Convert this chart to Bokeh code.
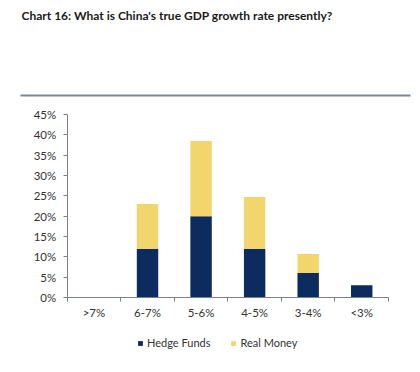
from bokeh.plotting import figure
from bokeh.models import (Range1d, FixedTicker, PrintfTickFormatter, Legend, LegendItem,
                          Label, PolyAnnotation, ColumnDataSource)
from bokeh.embed import file_html
from bokeh.resources import INLINE

categories = [">7%", "6-7%", "5-6%", "4-5%", "3-4%", "<3%"]
hedge_funds = [0, 12, 20, 12, 6, 3]
real_money = [0, 11, 18.5, 12.7, 4.7, 0]
y_ticks = [0, 5, 10, 15, 20, 25, 30, 35, 40, 45]
title_text = "Chart 16: What is China's true GDP growth rate presently?"

NAVY = "#0c2b5e"
YELLOW = "#f3d56e"
AXIS = "#7a7f8a"
FONT = "Lato"

n = len(categories)
xs = [i + 0.5 for i in range(n)]
src = ColumnDataSource(dict(x=xs, hf=hedge_funds, rm=real_money))

# canvas size and where the plotting area sits on it (pixels)
W, H = 412, 364
AX_L, AX_R = 66.7, 388.0     # x of first / last category boundary
AX_B, AX_T = 297.0, 114.0    # y of 0% / 45%
YMAX = y_ticks[-1]
sx = (AX_R - AX_L) / n
sy = (AX_B - AX_T) / YMAX
x_range = Range1d(-AX_L / sx, n + (W - AX_R) / sx)
y_range = Range1d(-(H - AX_B) / sy, YMAX + AX_T / sy)

p = figure(width=W, height=H, output_backend="svg", toolbar_location=None,
           x_range=x_range, y_range=y_range,
           min_border=0)
p.outline_line_color = None
p.grid.visible = False

r = p.vbar_stack(["hf", "rm"], x="x", width=0.4, source=src,
                 color=[NAVY, YELLOW], line_color=None)

xa = p.xaxis[0]
xa.fixed_location = 0
xa.bounds = (0, n)
xa.ticker = FixedTicker(ticks=xs, minor_ticks=list(range(n + 1)))
xa.major_label_overrides = {x: c for x, c in zip(xs, categories)}
xa.major_tick_line_color = None
xa.major_tick_in = 0
xa.major_tick_out = 0
xa.minor_tick_in = 0
xa.minor_tick_out = 4
xa.minor_tick_line_color = AXIS
xa.axis_line_color = AXIS
xa.major_label_standoff = 4

ya = p.yaxis[0]
ya.fixed_location = 0
ya.bounds = (0, YMAX)
ya.ticker = FixedTicker(ticks=y_ticks)
ya.formatter = PrintfTickFormatter(format="%d%%")
ya.major_tick_in = 0
ya.major_tick_out = 4
ya.minor_tick_line_color = None
ya.major_tick_line_color = AXIS
ya.axis_line_color = AXIS
ya.major_label_standoff = 7

for ax in (xa, ya):
    ax.major_label_text_font = FONT
    ax.major_label_text_font_size = "11.5px"
    ax.major_label_text_color = "#333333"

legend = Legend(items=[LegendItem(label="Hedge Funds", renderers=[r[0]]),
                       LegendItem(label="Real Money", renderers=[r[1]])],
                orientation="horizontal", location=(137, H - 349),
                border_line_color=None, background_fill_alpha=0,
                label_text_font=FONT, label_text_font_size="11px",
                label_text_color="#333333", glyph_width=6, glyph_height=6,
                spacing=20, label_standoff=4, margin=0, padding=0)
p.add_layout(legend, "center")

# header title (screen units, y measured up from the bottom of the canvas)
p.add_layout(Label(x=21, y=H - 15, x_units="screen", y_units="screen",
                   text=title_text, text_font=FONT, text_font_style="bold",
                   text_font_size="12px", text_color="#1a1a1a",
                   text_baseline="middle", text_align="left"))
# horizontal rule under the header
yr = H - 95
p.add_layout(PolyAnnotation(xs=[20, 410, 410, 20], ys=[yr + 1, yr + 1, yr - 1, yr - 1],
                            xs_units="screen", ys_units="screen",
                            fill_color="#7f8593", fill_alpha=1, line_color=None))

open("out.html", "w").write(file_html(p, INLINE))
